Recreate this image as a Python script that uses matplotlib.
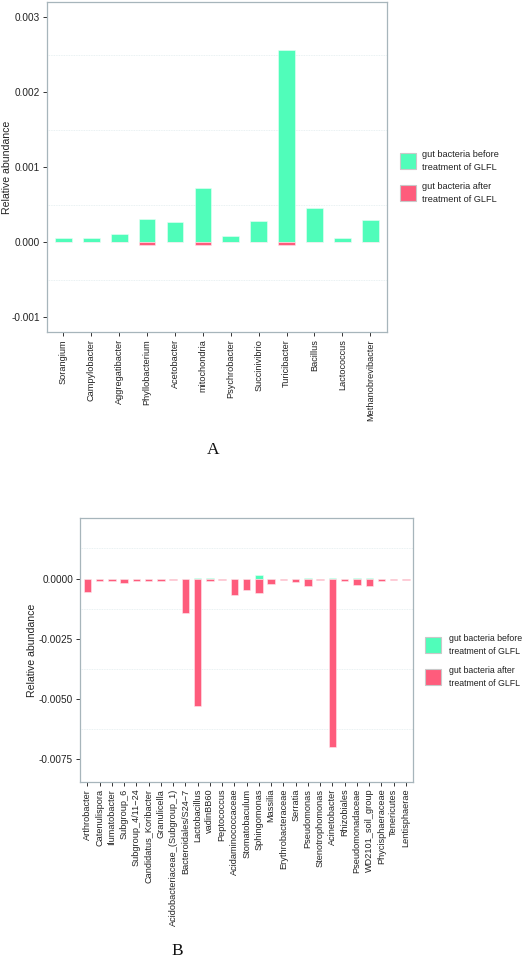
import matplotlib
matplotlib.use("Agg")
import matplotlib.pyplot as plt
from matplotlib.patches import Rectangle
from matplotlib.ticker import FixedLocator

plt.rcParams['font.family'] = ['Liberation Sans', 'DejaVu Sans']
plt.rcParams['axes.unicode_minus'] = False

# ---------------- data ----------------
cats_a = ["Sorangium", "Campylobacter", "Aggregatibacter", "Phyllobacterium",
          "Acetobacter", "mitochondria", "Psychrobacter", "Succinivibrio",
          "Turicibacter", "Bacillus", "Lactococcus", "Methanobrevibacter"]
before_a = [0.000053, 0.000055, 0.00011, 0.00031, 0.00027, 0.000715,
            0.000075, 0.000275, 0.00256, 0.00046, 0.00005, 0.00029]
after_a = [0.0, 0.0, 0.0, -0.000036, 0.0, -0.000045,
           0.0, 0.0, -0.000045, 0.0, 0.0, 0.0]

cats_b = ["Arthrobacter", "Catenulispora", "Ilumatobacter", "Subgroup_6",
          "Subgroup_4/11\u221224", "Candidatus_Koribacter", "Granulicella",
          "Acidobacteriaceae_(Subgroup_1)", "Bacteroidales/S24\u22127",
          "Lactobacillus", "vadinBB60", "Peptococcus", "Acidaminococcaceae",
          "Stomatobaculum", "Sphingomonas", "Massilia", "Erythrobacteraceae",
          "Serratia", "Pseudomonas", "Stenotrophomonas", "Acinetobacter",
          "Rhizobiales", "Pseudomonadaceae", "WD2101_soil_group",
          "Phycisphaeraceae", "Tenericutes", "Lentisphaerae"]
before_b = [0.0, 0.0, 0.0, 0.0, 0.0, 0.0, 0.0, 0.0, 0.0,
            0.00003, 0.00002, 0.0, 0.0, 0.0, 0.00014, 0.0, 0.0,
            0.0, 0.00003, 0.0, 0.00003, 0.0, 0.00003, 0.00003,
            0.0, 0.0, 0.0]
after_b = [-0.00055, -0.0001, -0.0001, -0.00018, -0.0001, -0.00011, -0.0001,
           -0.00006, -0.00141, -0.0053, -0.0001, -0.00006, -0.00068,
           -0.00048, -0.00058, -0.00021, -0.00004, -0.00015, -0.0003,
           -0.00008, -0.00698, -0.00011, -0.00026, -0.00029, -0.0001,
           -0.00006, -0.00006]

legend_labels = ["gut bacteria before\ntreatment of GLFL",
                 "gut bacteria after\ntreatment of GLFL"]

GREEN = "#50FDBA"
RED = "#FE5C7C"
SPINE = "#A7B5BB"
GRID = "#E2ECEE"

W, H = 524, 959
fig = plt.figure(figsize=(W / 100, H / 100), dpi=100)


def fx(px):
    return px / W


def fy(py):
    return 1 - py / H


def panel(rect_px, cats, before, after, ylim, major, minor, fmt, leg_px,
          leg_fs, title, title_px, ylab_x):
    l, t, r, b = rect_px
    ax = fig.add_axes([fx(l), fy(b), fx(r - l), (b - t) / H])
    x = range(len(cats))
    ax.bar(x, before, width=0.6, color=GREEN, edgecolor="#E8FFF6",
           linewidth=0.4, zorder=3)
    ax.bar(x, after, width=0.6, color=RED, edgecolor="#FFE8EE",
           linewidth=0.4, zorder=3)
    ax.set_xlim(-0.6, len(cats) - 0.4)
    ax.set_ylim(*ylim)
    ax.yaxis.set_major_locator(FixedLocator(major))
    ax.yaxis.set_minor_locator(FixedLocator(minor))
    ax.set_yticklabels([fmt.format(v) for v in major])
    ax.grid(False)
    for v in minor:
        ax.axhline(v, color=GRID, lw=0.6, ls=(0, (1, 1)), zorder=1)
    ax.tick_params(axis="y", which="minor", length=0)
    ax.tick_params(axis="both", which="major", length=3, width=0.7,
                   color="#333333", labelsize=7.2, labelcolor="#222222",
                   pad=2)
    ax.set_xticks(list(x))
    ax.set_xticklabels(cats, rotation=90, fontsize=6.6, color="#222222")
    for s in ax.spines.values():
        s.set_color(SPINE)
        s.set_linewidth(0.9)
    ax.set_ylabel("Relative abundance", fontsize=7.6, color="#222222")
    ax.yaxis.label.set_va("center")
    ax.yaxis.set_label_coords((ylab_x - l) / (r - l), 0.5)
    # legend
    lx, ly1, ly2, tx = leg_px
    for (yk, col, lab) in [(ly1, GREEN, legend_labels[0]),
                           (ly2, RED, legend_labels[1])]:
        fig.patches.append(Rectangle((fx(lx), fy(yk + 16)), fx(16), 16 / H,
                                     transform=fig.transFigure,
                                     facecolor=col, edgecolor="#C8C8C8",
                                     linewidth=0.8))
        fig.text(fx(tx), fy(yk + 8), lab, fontsize=leg_fs, va="center",
                 ha="left", color="#222222", linespacing=1.6)
    fig.text(fx(title_px[0]), fy(title_px[1]), title, fontsize=12.5,
             family=["Liberation Serif", "DejaVu Serif"], ha="center",
             va="center", color="#111111")
    return ax


panel((46.7, 2, 387, 332), cats_a, before_a, after_a,
      (-0.0012, 0.0032), [-0.001, 0.0, 0.001, 0.002, 0.003],
      [-0.0005, 0.0005, 0.0015, 0.0025], "{:.3f}",
      (400, 153, 185, 422), 6.6, "A", (213, 450), 7)

panel((80, 518.3, 413.3, 781.7), cats_b, before_b, after_b,
      (-0.00843, 0.0025), [-0.0075, -0.005, -0.0025, 0.0],
      [-0.00625, -0.00375, -0.00125, 0.00125], "{:.4f}",
      (425, 637, 669, 449), 6.3, "B", (177, 951), 32)

fig.savefig("out.png", dpi=100, facecolor="white")
